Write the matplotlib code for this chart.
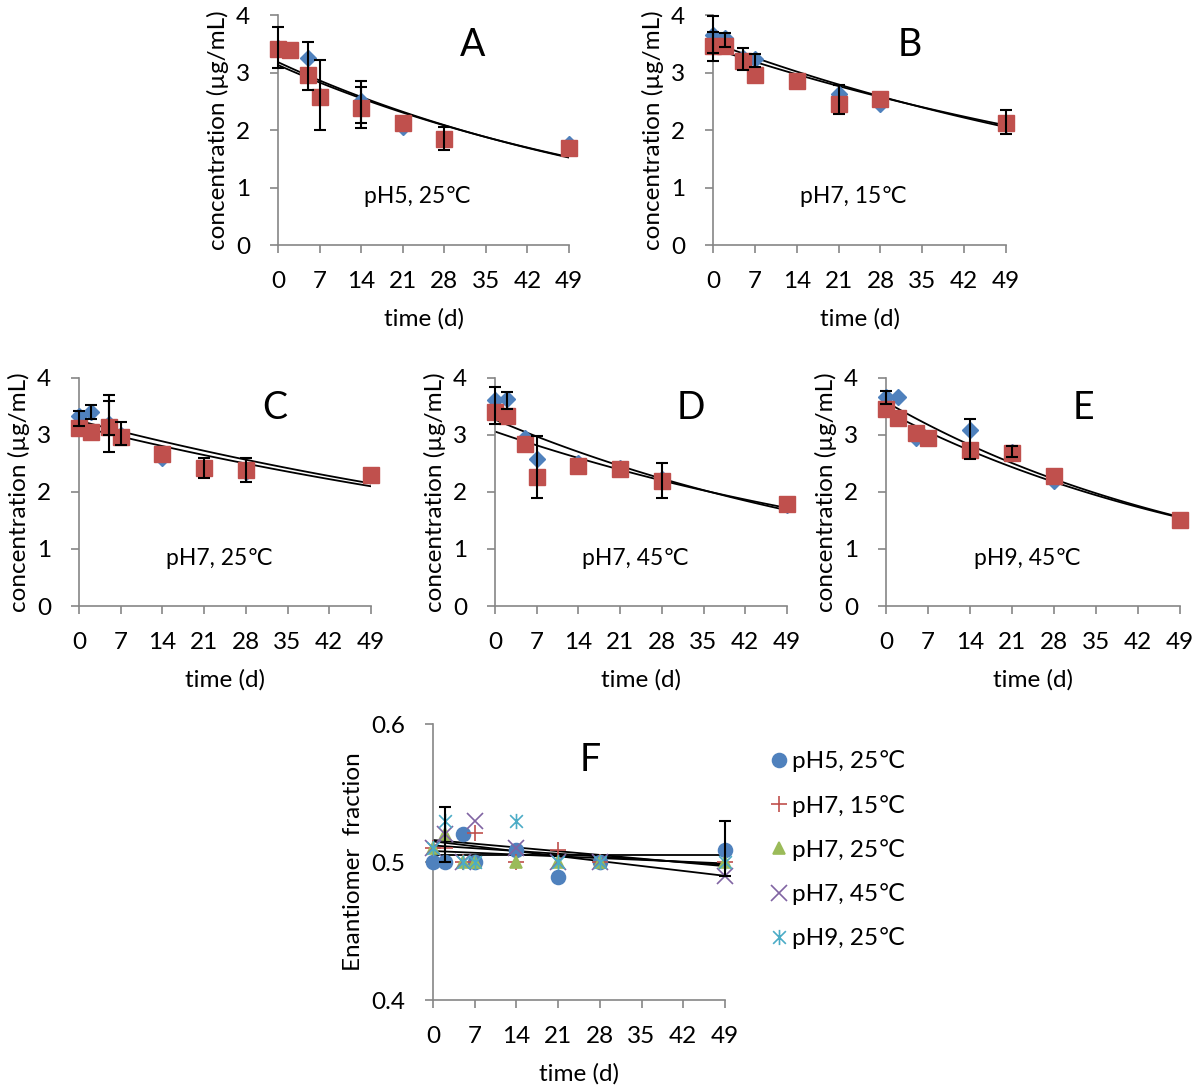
import numpy as np
import matplotlib.pyplot as plt
from matplotlib.path import Path

plt.rcParams['font.family'] = ['Lato', 'DejaVu Sans']

# sampling times (d)
t = [0, 2, 5, 7, 14, 21, 28, 49]

# panel A: pH5, 25C
a_blue = [3.42, 3.40, 3.26, 2.60, 2.50, 2.05, 1.85, 1.75]
a_red = [3.41, 3.39, 2.95, 2.58, 2.39, 2.13, 1.84, 1.68]
a_err_t = [0, 5, 7, 14, 14, 28]
a_err_lo = [3.08, 2.70, 2.00, 2.04, 2.13, 1.65]
a_err_hi = [3.80, 3.53, 3.22, 2.86, 2.75, 2.05]
a_fit = [(3.18, 1.52), (3.13, 1.53)]

# panel B: pH7, 15C
b_blue = [3.66, 3.60, 3.25, 3.23, 2.85, 2.62, 2.45, 2.10]
b_red = [3.46, 3.46, 3.20, 2.95, 2.85, 2.46, 2.54, 2.13]
b_err_t = [0, 0, 2, 5, 7, 21, 49]
b_err_lo = [3.34, 3.20, 3.45, 3.05, 3.10, 2.27, 1.93]
b_err_hi = [3.98, 3.70, 3.68, 3.42, 3.33, 2.78, 2.34]
b_fit = [(3.52, 2.05), (3.42, 2.08)]

# panel C: pH7, 25C
c_blue = [3.33, 3.40, 3.20, 3.00, 2.60, 2.42, 2.35, 2.30]
c_red = [3.12, 3.05, 3.14, 2.97, 2.67, 2.42, 2.38, 2.30]
c_err_t = [0, 2, 5, 5, 7, 21, 28]
c_err_lo = [3.15, 3.28, 2.70, 3.00, 2.82, 2.25, 2.18]
c_err_hi = [3.42, 3.52, 3.70, 3.60, 3.22, 2.60, 2.60]
c_fit = [(3.25, 2.15), (3.15, 2.10)]

# panel D: pH7, 45C
d_blue = [3.62, 3.63, 2.94, 2.57, 2.50, 2.42, 2.22, 1.78]
d_red = [3.41, 3.34, 2.84, 2.27, 2.45, 2.41, 2.20, 1.79]
d_err_t = [0, 2, 7, 28]
d_err_lo = [3.20, 3.45, 1.90, 1.90]
d_err_hi = [3.85, 3.75, 2.98, 2.50]
d_fit = [(3.27, 1.68), (3.06, 1.72)]

# panel E: pH9, 45C
e_blue = [3.66, 3.66, 2.95, 2.95, 3.08, 2.70, 2.20, 1.50]
e_red = [3.46, 3.30, 3.03, 2.95, 2.74, 2.68, 2.28, 1.50]
e_err_t = [0, 14, 21]
e_err_lo = [3.55, 2.58, 2.62]
e_err_hi = [3.77, 3.28, 2.80]
e_fit = [(3.58, 1.56), (3.42, 1.55)]

# panel F: enantiomer fraction
f_labels = ['pH5, 25℃', 'pH7, 15℃', 'pH7, 25℃', 'pH7, 45℃', 'pH9, 25℃']
f_ph5_25 = [0.50, 0.50, 0.52, 0.50, 0.509, 0.489, 0.50, 0.509]
f_ph7_15 = [0.51, 0.51, 0.50, 0.521, 0.50, 0.509, 0.50, 0.50]
f_ph7_25 = [0.51, 0.52, 0.50, 0.50, 0.50, 0.50, 0.50, 0.50]
f_ph7_45 = [0.51, 0.52, 0.50, 0.53, 0.51, 0.50, 0.50, 0.49]
f_ph9_25 = [0.51, 0.53, 0.50, 0.50, 0.53, 0.50, 0.50, 0.50]
f_err_t = [2, 49]
f_err_lo = [0.50, 0.49]
f_err_hi = [0.54, 0.53]
f_fit = [(0.516, 0.497), (0.512, 0.498), (0.505, 0.505), (0.508, 0.499), (0.515, 0.490)]

blue = '#4F81BD'
red = '#C0504D'
grey = '#868686'
f_colors = ['#4F81BD', '#C0504D', '#9BBB59', '#8064A2', '#4BACC6']

# excel style star: an x with a vertical stroke
star = Path([(-1, -1), (1, 1), (-1, 1), (1, -1), (0, -1.2), (0, 1.2)],
            [Path.MOVETO, Path.LINETO, Path.MOVETO, Path.LINETO, Path.MOVETO, Path.LINETO])
f_markers = ['o', '+', '^', 'x', star]
f_sizes = [10, 11, 9, 11, 11]


def style_axes(ax, ylim, yticks, ylabel):
    ax.set_xlim(0, 49)
    ax.set_ylim(*ylim)
    ax.set_xticks(range(0, 50, 7))
    ax.set_yticks(yticks)
    for s in ['top', 'right']:
        ax.spines[s].set_visible(False)
    for s in ['left', 'bottom']:
        ax.spines[s].set_color(grey)
        ax.spines[s].set_linewidth(1.2)
    ax.tick_params(direction='out', length=6, width=1.2, color=grey,
                   labelsize=17.5)
    ax.tick_params(axis='x', pad=13)
    ax.tick_params(axis='y', pad=14)
    ax.set_xlabel('time (d)', fontsize=17.5, labelpad=11)
    ax.set_ylabel(ylabel, fontsize=17.5, labelpad=5)


def conc_panel(rect, blue_y, red_y, err_t, err_lo, err_hi, fit, letter, cond):
    ax = fig.add_axes(rect)
    style_axes(ax, (0, 4), [0, 1, 2, 3, 4], 'concentration (µg/mL)')
    tt = np.linspace(0, 49, 100)
    for c0, c49 in fit:
        k = np.log(c0 / c49) / 49
        ax.plot(tt, c0 * np.exp(-k * tt), color='black', lw=1.3, zorder=2)
    ax.plot(t, blue_y, 'D', color=blue, ms=8, clip_on=False, zorder=3)
    ax.plot(t, red_y, 's', color=red, ms=11.5, clip_on=False, zorder=4)
    lo = np.array(err_lo)
    hi = np.array(err_hi)
    ax.errorbar(err_t, (lo + hi) / 2, yerr=(hi - lo) / 2, fmt='none',
                ecolor='black', elinewidth=1.5, capsize=4, capthick=1.5,
                clip_on=False, zorder=5)
    ax.text(0.67, 0.87, letter, transform=ax.transAxes, fontsize=27,
            ha='center', va='center')
    ax.text(0.48, 0.21, cond, transform=ax.transAxes, fontsize=16.5,
            ha='center', va='center')
    return ax


fig = plt.figure(figsize=(12, 10.87), dpi=100)

conc_panel([0.2317, 0.7746, 0.2425, 0.2116], a_blue, a_red, a_err_t, a_err_lo, a_err_hi, a_fit, 'A', 'pH5, 25℃')
conc_panel([0.5942, 0.7746, 0.2442, 0.2116], b_blue, b_red, b_err_t, b_err_lo, b_err_hi, b_fit, 'B', 'pH7, 15℃')
conc_panel([0.0658, 0.4425, 0.2433, 0.2098], c_blue, c_red, c_err_t, c_err_lo, c_err_hi, c_fit, 'C', 'pH7, 25℃')
conc_panel([0.4125, 0.4425, 0.2433, 0.2098], d_blue, d_red, d_err_t, d_err_lo, d_err_hi, d_fit, 'D', 'pH7, 45℃')
conc_panel([0.7383, 0.4425, 0.2450, 0.2098], e_blue, e_red, e_err_t, e_err_lo, e_err_hi, e_fit, 'E', 'pH9, 45℃')

# panel F
axf = fig.add_axes([0.3608, 0.0800, 0.2433, 0.2539])
style_axes(axf, (0.4, 0.6), [0.4, 0.5, 0.6], 'Enantiomer  fraction')
for y0, y49 in f_fit:
    axf.plot([0, 49], [y0, y49], color='black', lw=1.3, zorder=2)
f_series = [f_ph5_25, f_ph7_15, f_ph7_25, f_ph7_45, f_ph9_25]
for ys, lab, col, mk, ms in zip(f_series, f_labels, f_colors, f_markers, f_sizes):
    axf.plot(t, ys, linestyle='none', marker=mk, color=col, ms=ms,
             mew=1.2, label=lab, clip_on=False, zorder=3)
lo = np.array(f_err_lo)
hi = np.array(f_err_hi)
axf.errorbar(f_err_t, (lo + hi) / 2, yerr=(hi - lo) / 2, fmt='none',
             ecolor='black', elinewidth=1.5, capsize=4, capthick=1.5,
             clip_on=False, zorder=5)
axf.text(0.54, 0.87, 'F', transform=axf.transAxes, fontsize=27,
         ha='center', va='center')
axf.legend(loc='upper left', bbox_to_anchor=(1.13, 0.94), frameon=False,
           fontsize=17.5, handlelength=0.5, handletextpad=0.3,
           labelspacing=0.92, borderaxespad=0)

fig.savefig('out.png', dpi=100)
